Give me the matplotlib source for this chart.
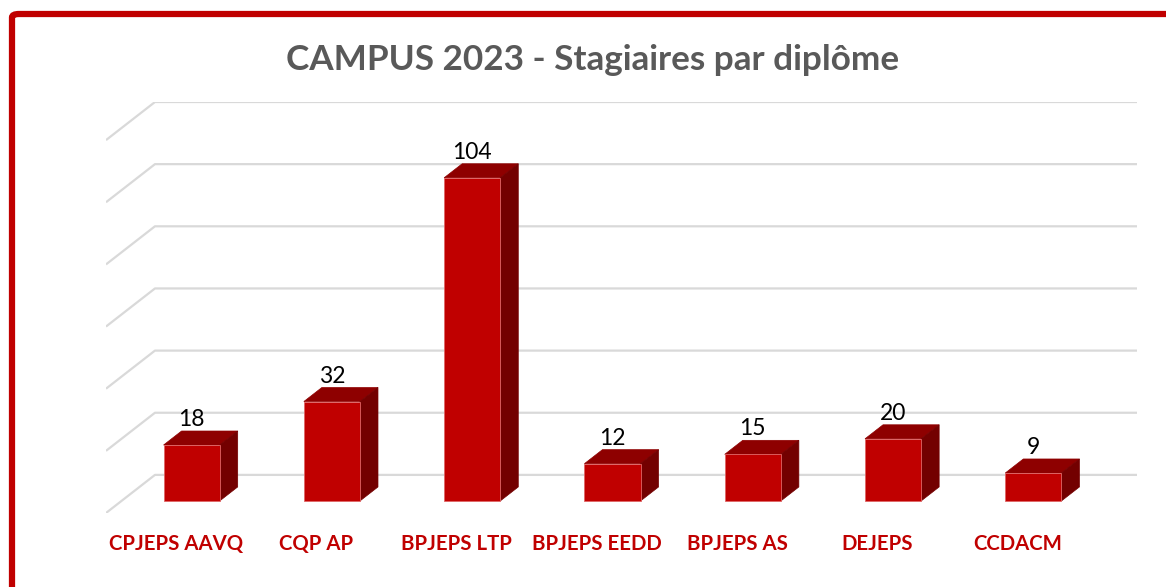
import numpy as np
import matplotlib
matplotlib.use("Agg")
import matplotlib.pyplot as plt
from matplotlib.patches import Polygon, FancyBboxPatch

categories = ["CPJEPS AAVQ", "CQP AP", "BPJEPS LTP", "BPJEPS EEDD",
              "BPJEPS AS", "DEJEPS", "CCDACM"]
counts = [18, 32, 104, 12, 15, 20, 9]
grid_levels = [0, 20, 40, 60, 80, 100, 120]

# fake 3D: depth z in [0, 1] shifts points right and up
DX, DY = 0.349, 12.26
Z0, Z1 = 0.316, 0.684
BAR_W = 0.4

FRONT = "#C00000"
TOP = "#8E0000"
SIDE = "#730000"
GRID = "#D9D9D9"


def proj(x, v, z):
    return x + z * DX, v + z * DY


plt.rcParams["font.family"] = ["Lato", "DejaVu Sans"]
fig = plt.figure(figsize=(11.66, 5.87), dpi=100)
ax = fig.add_axes([106 / 1166, 74 / 587, 1031 / 1166, 411 / 587])
n = len(categories)
ax.set_xlim(-0.5, n - 0.5 + DX)
ax.set_ylim(0, grid_levels[-1] + DY)

# wall gridlines (left wall diagonal + back wall)
for g in grid_levels:
    pts = [proj(-0.5, g, 0), proj(-0.5, g, 1), proj(n - 0.5, g, 1)]
    ax.plot([p[0] for p in pts], [p[1] for p in pts], color=GRID, lw=1.6,
            zorder=1, solid_capstyle="butt")

xs = np.arange(n)
ax.bar(xs + Z0 * DX, counts, width=BAR_W, bottom=Z0 * DY, color=FRONT,
       edgecolor="#E06666", linewidth=0.6, zorder=3)

for x, v in zip(xs, counts):
    xl, xr = x - BAR_W / 2, x + BAR_W / 2
    top = Polygon([proj(xl, v, Z0), proj(xr, v, Z0), proj(xr, v, Z1), proj(xl, v, Z1)],
                  closed=True, facecolor=TOP, edgecolor=TOP, lw=0.5, zorder=2)
    side = Polygon([proj(xr, 0, Z0), proj(xr, v, Z0), proj(xr, v, Z1), proj(xr, 0, Z1)],
                   closed=True, facecolor=SIDE, edgecolor=SIDE, lw=0.5, zorder=2)
    ax.add_patch(top)
    ax.add_patch(side)
    lx, ly = proj(x, v, Z1)
    ax.text(x + Z0 * DX, ly + 1.6, str(v), ha="center", va="baseline",
            fontsize=16.5, color="black", zorder=4)

ax.set_xticks(xs)
ax.set_xticklabels(categories, fontsize=14.7, fontweight="bold", color=FRONT)
ax.tick_params(axis="x", length=0, pad=15)
ax.set_yticks([])
for s in ax.spines.values():
    s.set_visible(False)

fig.text(593 / 1166, 1 - 70 / 587, "CAMPUS 2023 - Stagiaires par diplôme",
         ha="center", va="baseline", fontsize=25.3, fontweight="bold", color="#595959")

border = FancyBboxPatch((12 / 1166, -0.1), 1.2, 1.1 - 14 / 587,
                        boxstyle="round,pad=0,rounding_size=0.006",
                        transform=fig.transFigure, facecolor="none",
                        edgecolor=FRONT, linewidth=4.5)
fig.add_artist(border)

fig.savefig("out.png", dpi=100)
